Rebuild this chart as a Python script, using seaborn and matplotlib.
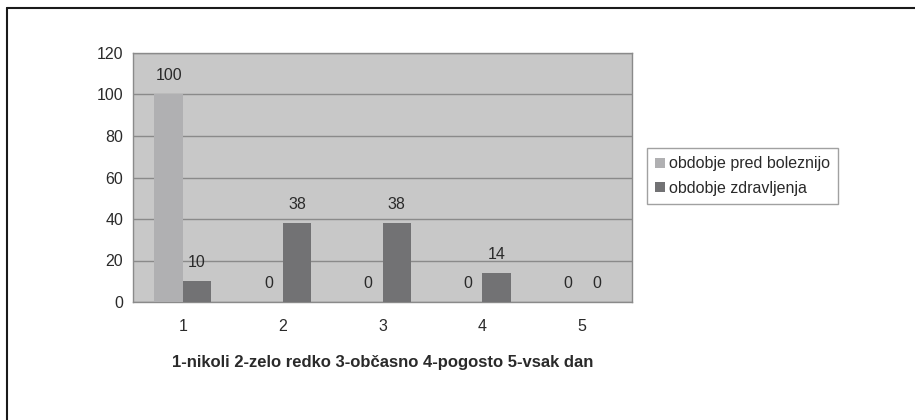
import matplotlib
matplotlib.use('Agg')
import matplotlib.pyplot as plt
from matplotlib.lines import Line2D
import seaborn as sns
import pandas as pd

categories = ['1', '2', '3', '4', '5']
before_illness = [100, 0, 0, 0, 0]
recovery = [10, 38, 38, 14, 0]
series_names = ['obdobje pred boleznijo', 'obdobje zdravljenja']
y_ticks = [0, 20, 40, 60, 80, 100, 120]
x_title = '1-nikoli 2-zelo redko 3-občasno 4-pogosto 5-vsak dan'

sns.set_style('white')
plt.rcParams['font.family'] = ['Liberation Sans', 'DejaVu Sans']
text_col = '#2a2a2a'
fs = 11.5

df = pd.DataFrame({
    'kategorija': categories * 2,
    'vrednost': before_illness + recovery,
    'obdobje': [series_names[0]] * len(categories) + [series_names[1]] * len(categories),
})

fig = plt.figure(figsize=(9.15, 4.2), dpi=100)
W, H = 915, 420
ax = fig.add_axes([133 / W, (H - 302) / H, 499 / W, 249 / H])
ax.set_facecolor('#c8c8c8')

sns.barplot(data=df, x='kategorija', y='vrednost', hue='obdobje',
            palette=['#b0b0b2', '#727274'], width=0.57, saturation=1,
            gap=0, linewidth=0, ax=ax, zorder=3)

for cont in ax.containers:
    ax.bar_label(cont, fmt='%g', padding=8, fontsize=fs, color=text_col)

ax.set_ylim(0, 120)
ax.set_xlim(-0.5, 4.5)
ax.set_yticks(y_ticks)
ax.yaxis.grid(True, color='#8a8a8a', linewidth=1, zorder=1)
ax.set_axisbelow(True)
ax.tick_params(axis='y', length=0, pad=7, labelsize=fs, labelcolor=text_col)
ax.tick_params(axis='x', which='major', length=0, pad=12, labelsize=fs, labelcolor=text_col)
ax.set_xticks([i - 0.5 for i in range(len(categories) + 1)], minor=True)
ax.tick_params(axis='x', which='minor', length=5, color='#8a8a8a', width=1)
for s in ax.spines.values():
    s.set_color('#8a8a8a')
    s.set_linewidth(1)

ax.set_ylabel('')
ax.set_xlabel(x_title, fontsize=12, fontweight='bold', color=text_col, labelpad=15)

leg = ax.legend(loc='center left', bbox_to_anchor=(647 / W, (H - 176) / H),
                bbox_transform=fig.transFigure, frameon=True, fancybox=False,
                fontsize=fs, handlelength=0.6, handleheight=0.6, handletextpad=0.3,
                borderpad=0.5, labelspacing=0.6, borderaxespad=0, title=None)
leg.get_frame().set_edgecolor('#8a8a8a')
leg.get_frame().set_linewidth(1)
for t in leg.get_texts():
    t.set_color(text_col)

# outer frame of the original picture (only top and left are visible)
fig.add_artist(Line2D([7 / W, 7 / W], [0, (H - 8) / H], color='#1a1a1a', linewidth=1.5,
                      transform=fig.transFigure))
fig.add_artist(Line2D([7 / W, 1], [(H - 8) / H, (H - 8) / H], color='#1a1a1a', linewidth=1.5,
                      transform=fig.transFigure))

fig.savefig('out.png', dpi=100, facecolor='white')
